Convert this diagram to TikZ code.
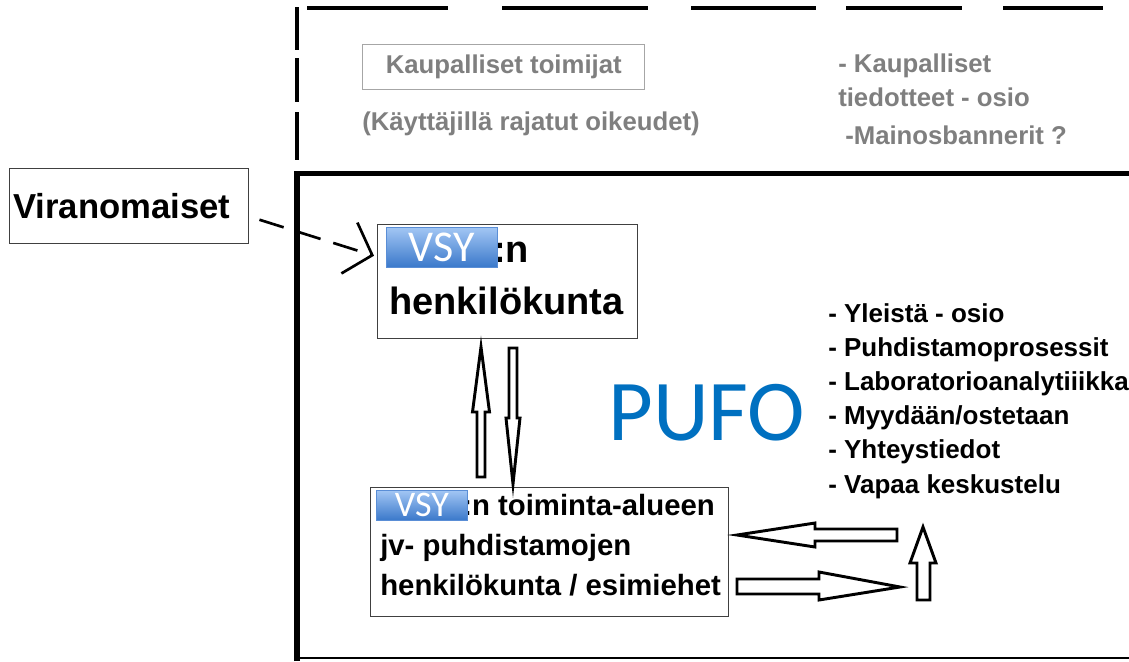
\documentclass[tikz,border=0pt]{standalone}
\usepackage{fontspec}
\setmainfont{Liberation Sans}
\newfontfamily\calfont{Carlito}
\usetikzlibrary{arrows.meta,calc}
\definecolor{pufoblue}{HTML}{0070C0}
\definecolor{txtgray}{HTML}{7F7F7F}
\definecolor{boxgray}{HTML}{404040}
\definecolor{lightbox}{HTML}{A6A6A6}
\definecolor{vsytop}{HTML}{A2C6F4}
\definecolor{vsybot}{HTML}{3A78CA}
\definecolor{vsyedge}{HTML}{5A8ED6}
\tikzset{
  dashline/.style={line width=2.4pt},
  framebox/.style={draw=boxgray, line width=1.1pt, inner sep=0pt, anchor=north west},
  graybox/.style={draw=lightbox, line width=1.1pt, inner sep=0pt, anchor=north west, text=txtgray, font=\bfseries\fontsize{19.3}{23}\selectfont},
  graytxt/.style={anchor=base west, inner sep=0pt, text=txtgray, font=\bfseries\fontsize{19.3}{23}\selectfont},
  bigtxt/.style={anchor=base west, inner sep=0pt, font=\bfseries\fontsize{28.5}{34}\selectfont},
  midtxt/.style={anchor=base west, inner sep=0pt, font=\bfseries\fontsize{22}{26}\selectfont},
  listtxt/.style={anchor=base west, inner sep=0pt, font=\bfseries\fontsize{19.5}{23}\selectfont},
  badge/.style={top color=vsytop, bottom color=vsybot, draw=vsyedge, line width=0.6pt, inner sep=0pt, anchor=north west, text=white},
  blockarr/.style={draw=black, fill=white, line width=2.2pt, line join=miter},
  dasharrow/.style={line width=2pt, dash pattern=on 19pt off 10pt, -{Straight Barb[length=18pt, width=40pt, line width=2pt]}}
}
\begin{document}
\begin{tikzpicture}[x=0.75pt,y=-0.75pt]
\useasboundingbox[fill=white] (0,0) rectangle (1129,661);

% upper dashed area
\foreach \a/\b in {307/448,502/648,691/816,846/962,1003/1103}
  \draw[dashline] (\a,8) -- (\b,8);
\foreach \a/\b in {7/50,58/102,112/160}
  \draw[dashline] (297,\a) -- (297,\b);

% main frame
\draw[line width=3.8pt] (297,661) -- (297,173.5) -- (1129,173.5);
\draw[line width=1.8pt] (297,658) -- (1129,658);

% commercial actors
\node[graybox, minimum width=211.5pt, minimum height=33.75pt] (kt) at (362,44) {Kaupalliset toimijat};
\node[graytxt] (kto) at (362,130) {(Käyttäjillä rajatut oikeudet)};
\node[graytxt] (ka1) at (838,72) {- Kaupalliset};
\node[graytxt] (ka2) at (838,106) {tiedotteet - osio};
\node[graytxt] (ka3) at (845,144) {-Mainosbannerit ?};

% Viranomaiset
\node[framebox, minimum width=179.25pt, minimum height=56.25pt] (vir) at (9,168) {};
\node[anchor=base west, inner sep=0pt, font=\bfseries\fontsize{26}{30}\selectfont] (virt) at (13,218) {Viranomaiset};

% VSY staff box
\node[framebox, minimum width=195pt, minimum height=85.5pt] (vsy) at (377,224) {};
\node[bigtxt] (vsyn) at (493,262) {:n};
\node[badge, minimum width=83.25pt, minimum height=30pt] (badge1) at (386,227) {\calfont\fontsize{33}{33}\selectfont VSY};
\node[bigtxt] (vsyh) at (389,314) {henkilökunta};

\draw[dasharrow] ($(vir.east)+(10,13.5)$) -- ($(vsy.west)+(-3,-26)$);

% lower box
\node[framebox, minimum width=268.5pt, minimum height=96.75pt] (low) at (370,487) {};
\node[midtxt] (low1) at (462,515) {:n toiminta-alueen};
\node[badge, minimum width=68.25pt, minimum height=22.5pt] (badge2) at (376,490) {\calfont\fontsize{27}{27}\selectfont VSY};
\node[midtxt] (low2) at (380,555) {jv- puhdistamojen};
\node[midtxt] (low3) at (380,595) {henkilökunta / esimiehet};

% PUFO
\node[anchor=base west, inner sep=0pt, text=pufoblue, font=\calfont\fontsize{65}{65}\selectfont] (pufo) at (608,440) {PUFO};

% list
\node[listtxt] (l1) at (828,322) {- Yleistä - osio};
\node[listtxt] (l2) at (828,356) {- Puhdistamoprosessit};
\node[listtxt] (l3) at (828,390) {- Laboratorioanalytiiikka};
\node[listtxt] (l4) at (828,424) {- Myydään/ostetaan};
\node[listtxt] (l5) at (828,458) {- Yhteystiedot};
\node[listtxt] (l6) at (828,493) {- Vapaa keskustelu};

% block arrows
\draw[blockarr] (481,347) -- (489.5,412) -- (485,412) -- (485,477) -- (477,477) -- (477,412) -- (472.5,412) -- cycle;
\draw[blockarr] (513,484) -- (520,418) -- (517,418) -- (517,348) -- (509,348) -- (509,418) -- (506,418) -- cycle;
\draw[blockarr] (737,535) -- (815,523) -- (815,529) -- (897,529) -- (897,541) -- (815,541) -- (815,547) -- cycle;
\draw[blockarr] (900,587) -- (819,600) -- (819,594) -- (737,594) -- (737,579) -- (819,579) -- (819,572) -- cycle;
\draw[blockarr] (923,527) -- (936,563) -- (930,563) -- (930,600) -- (917,600) -- (917,563) -- (910,563) -- cycle;
\end{tikzpicture}
\end{document}
